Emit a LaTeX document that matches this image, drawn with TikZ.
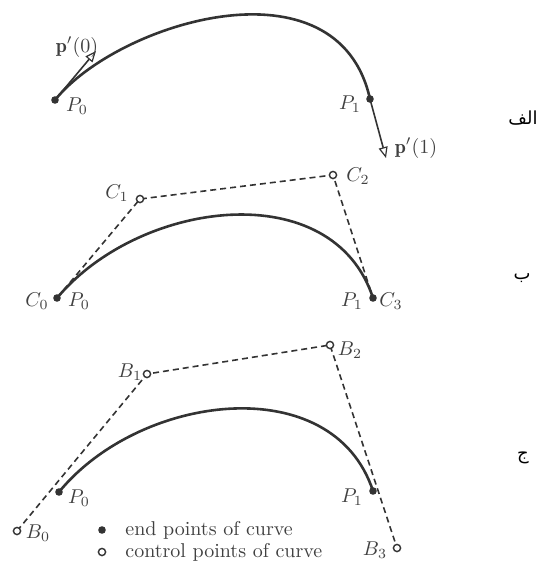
\documentclass[tikz,border=0pt]{standalone}
\usepackage{fontspec}
\newfontfamily\arabicfont[Script=Arabic]{DejaVu Sans}
\TeXXeTstate=1
\usetikzlibrary{arrows.meta}
\definecolor{ink}{HTML}{333333}
\definecolor{txt}{HTML}{404040}
\begin{document}
\begin{tikzpicture}[x=0.5pt,y=-0.5pt,
  curveline/.style={draw=ink,line width=1.3pt},
  polyline/.style={draw=ink,line width=0.8pt,dash pattern=on 3pt off 2pt},
  tangentline/.style={draw=ink,line width=0.8pt,-{Triangle[open,length=5.5pt,width=4.5pt,line width=0.6pt]}},
  enddot/.style={circle,fill=ink,inner sep=0pt,minimum size=3.8pt},
  ctrldot/.style={circle,draw=ink,fill=white,line width=0.7pt,inner sep=0pt,minimum size=3.6pt},
  lbl/.style={text=txt,inner sep=0pt,font=\fontsize{10}{12}\selectfont},
  arlbl/.style={text=black,inner sep=0pt,font=\arabicfont\fontsize{9}{11}\selectfont}]
\useasboundingbox (0,0) rectangle (536,570);
% ---------- panel A ----------
\coordinate (a0) at (55,100);
\coordinate (a1) at (370,99);
\coordinate (ta0) at (96,51);
\coordinate (ta1) at (386,158);
\draw[curveline] (a0) .. controls (118,22) and (338,-45) .. (a1);
\draw[tangentline] (a0) -- (ta0);
\draw[tangentline] (a1) -- (ta1);
\node[enddot] (A0) at (a0) {};
\node[enddot] (A1) at (a1) {};
\node[lbl] (lA0) at (77,106) {$P_0$};
\node[lbl] (lA1) at (350,104) {$P_1$};
\node[lbl] (lT0) at (77,47) {$\mathbf{p}'(0)$};
\node[lbl] (lT1) at (416,148) {$\mathbf{p}'(1)$};
\node[arlbl] (arA) at (523,118) {\beginR الف\endR};
% ---------- panel B ----------
\coordinate (b0) at (57,298);
\coordinate (bc1) at (140,199);
\coordinate (bc2) at (333,175);
\coordinate (b1) at (373,298);
\draw[curveline] (b0) .. controls (bc1) and (bc2) .. (b1);
\draw[polyline] (b0) -- (bc1) -- (bc2) -- (b1);
\node[enddot] (C0) at (b0) {};
\node[ctrldot] (C1) at (bc1) {};
\node[ctrldot] (C2) at (bc2) {};
\node[enddot] (C3) at (b1) {};
\node[lbl] (lC0) at (37,301) {$C_0$};
\node[lbl] (lBP0) at (79,301) {$P_0$};
\node[lbl] (lBP1) at (352,301) {$P_1$};
\node[lbl] (lC3) at (391,301) {$C_3$};
\node[lbl] (lC1) at (117,193) {$C_1$};
\node[lbl] (lC2) at (358,176) {$C_2$};
\node[arlbl] (arB) at (522,278) {\beginR ب\endR};
% ---------- panel C ----------
\coordinate (c0) at (59,492);
\coordinate (c1) at (373,491);
\coordinate (pb0) at (17,531);
\coordinate (pb1) at (147,374);
\coordinate (pb2) at (330,345);
\coordinate (pb3) at (397,548);
\draw[curveline] (c0) .. controls (140,393) and (333,369) .. (c1);
\draw[polyline] (pb0) -- (pb1) -- (pb2) -- (pb3);
\node[enddot] (P0) at (c0) {};
\node[enddot] (P1) at (c1) {};
\node[ctrldot] (B0) at (pb0) {};
\node[ctrldot] (B1) at (pb1) {};
\node[ctrldot] (B2) at (pb2) {};
\node[ctrldot] (B3) at (pb3) {};
\node[lbl] (lCP0) at (79,498) {$P_0$};
\node[lbl] (lCP1) at (352,497) {$P_1$};
\node[lbl] (lB0) at (38,533) {$B_0$};
\node[lbl] (lB1) at (130,372) {$B_1$};
\node[lbl] (lB2) at (350,350) {$B_2$};
\node[lbl] (lB3) at (375,550) {$B_3$};
\node[arlbl] (arC) at (523,458) {\beginR ج\endR};
% ---------- legend ----------
\node[enddot] (legE) at (102,530) {};
\node[ctrldot] (legC) at (102,552) {};
\node[lbl,anchor=west] (legEt) at (125,530) {end points of curve};
\node[lbl,anchor=west] (legCt) at (125,552) {control points of curve};
\end{tikzpicture}
\end{document}
